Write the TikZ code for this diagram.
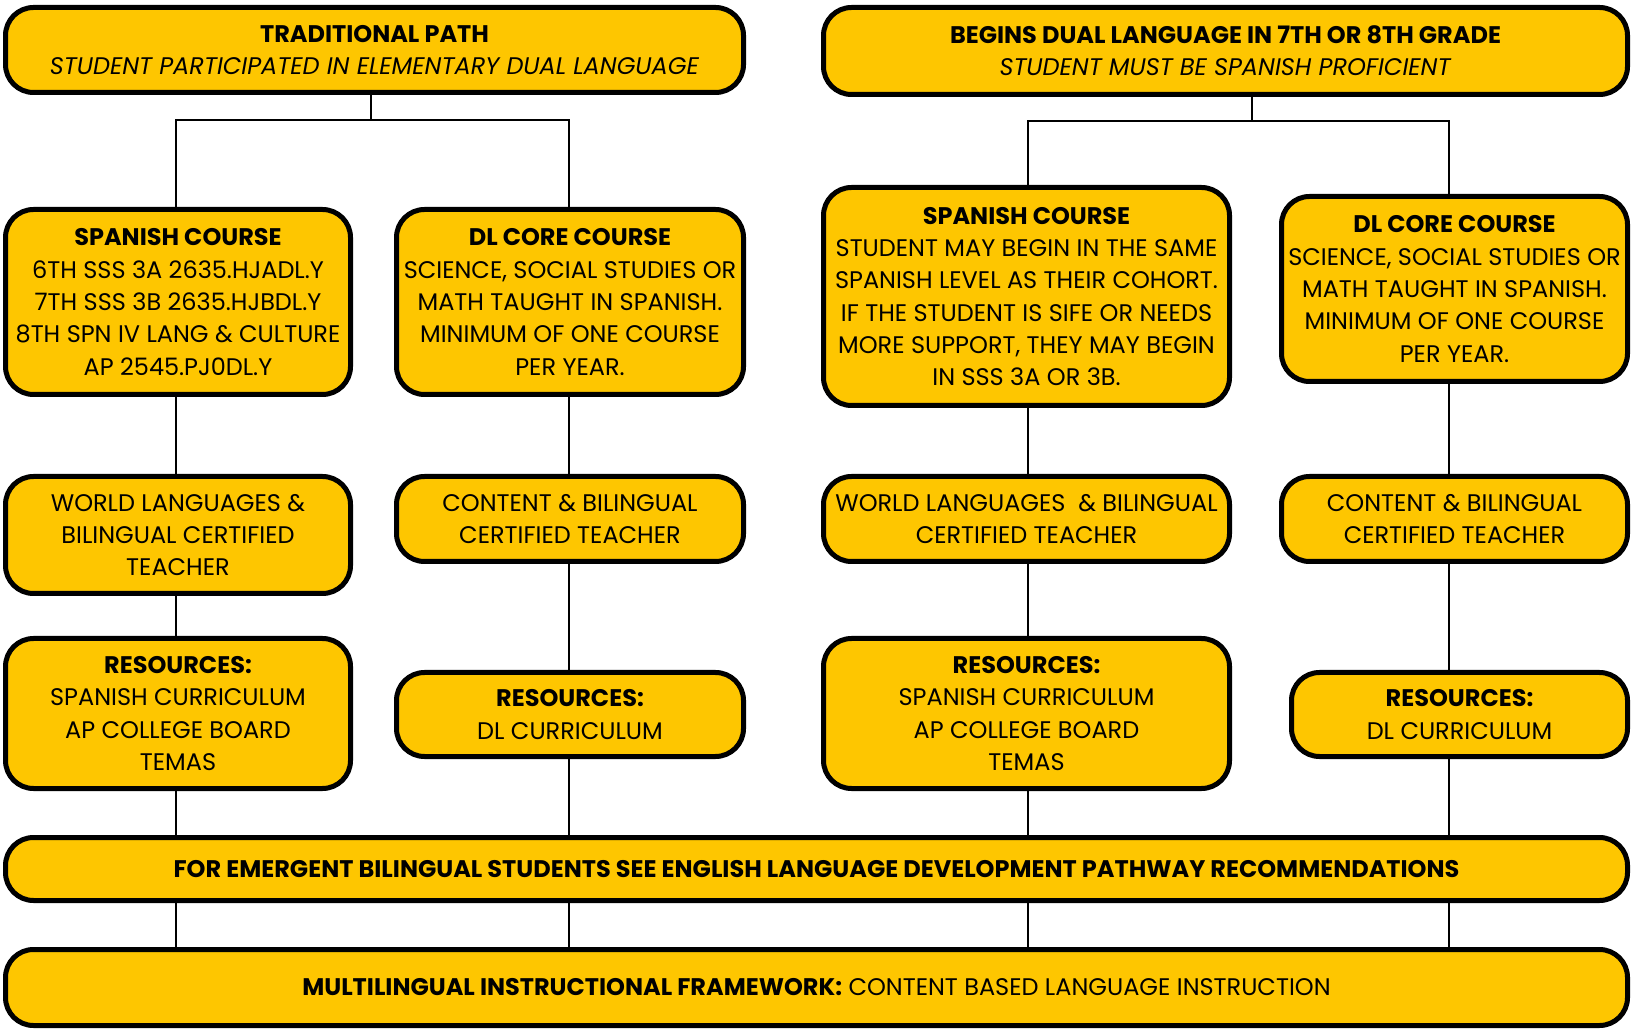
\documentclass[tikz,border=0pt]{standalone}
\usepackage{fontspec}
\setmainfont{Poppins}
\usetikzlibrary{backgrounds}
\definecolor{boxyellow}{RGB}{254,198,0}
\begin{document}
\begin{tikzpicture}[x=0.5pt,y=-0.5pt,
  box/.style={draw=black, line width=2.5pt, fill=boxyellow, rounded corners=14pt,
    align=center, inner sep=0pt, font=\fontsize{12}{16.15}\selectfont},
  link/.style={draw=black, line width=0.7pt}]
\useasboundingbox (0,0) rectangle (1632,1036);

% top row
\node[box, minimum width=369pt, minimum height=42.5pt] (T1) at (374.5,50)
  {\textbf{TRADITIONAL PATH}\\\textit{STUDENT PARTICIPATED IN ELEMENTARY DUAL LANGUAGE}};
\node[box, minimum width=402pt, minimum height=43.5pt] (T2) at (1225.5,51)
  {\textbf{BEGINS DUAL LANGUAGE IN 7TH OR 8TH GRADE}\\\textit{STUDENT MUST BE SPANISH PROFICIENT}};

% course row
\node[box, minimum width=172.5pt, minimum height=92.5pt] (A1) at (178,302)
  {\textbf{SPANISH COURSE}\\6TH SSS 3A 2635.HJADL.Y\\7TH SSS 3B 2635.HJBDL.Y\\8TH SPN IV LANG \& CULTURE\\AP 2545.PJ0DL.Y};
\node[box, minimum width=173.5pt, minimum height=92.5pt] (A2) at (570,302)
  {\textbf{DL CORE COURSE}\\SCIENCE, SOCIAL STUDIES OR\\MATH TAUGHT IN SPANISH.\\MINIMUM OF ONE COURSE\\PER YEAR.};
\node[box, minimum width=203pt, minimum height=109pt] (B1) at (1026.5,296.5)
  {\textbf{SPANISH COURSE}\\STUDENT MAY BEGIN IN THE SAME\\SPANISH LEVEL AS THEIR COHORT.\\IF THE STUDENT IS SIFE OR NEEDS\\MORE SUPPORT, THEY MAY BEGIN\\IN SSS 3A OR 3B.};
\node[box, minimum width=173pt, minimum height=92.5pt] (B2) at (1454.5,289)
  {\textbf{DL CORE COURSE}\\SCIENCE, SOCIAL STUDIES OR\\MATH TAUGHT IN SPANISH.\\MINIMUM OF ONE COURSE\\PER YEAR.};

% teacher row
\node[box, minimum width=172.5pt, minimum height=58.5pt] (TA1) at (178,535)
  {WORLD LANGUAGES \&\\BILINGUAL CERTIFIED\\TEACHER};
\node[box, minimum width=173.5pt, minimum height=42.5pt] (TA2) at (570,519)
  {CONTENT \& BILINGUAL\\CERTIFIED TEACHER};
\node[box, minimum width=203pt, minimum height=42.5pt] (TB1) at (1026.5,519)
  {WORLD LANGUAGES \ \& BILINGUAL\\CERTIFIED TEACHER};
\node[box, minimum width=173pt, minimum height=42.5pt] (TB2) at (1454.5,519)
  {CONTENT \& BILINGUAL\\CERTIFIED TEACHER};

% resources row
\node[box, minimum width=172.5pt, minimum height=75pt] (RA1) at (178,713.5)
  {\textbf{RESOURCES:}\\SPANISH CURRICULUM\\AP COLLEGE BOARD\\TEMAS};
\node[box, minimum width=173.5pt, minimum height=42pt] (RA2) at (570,714.5)
  {\textbf{RESOURCES:}\\DL CURRICULUM};
\node[box, minimum width=203pt, minimum height=75pt] (RB1) at (1026.5,713.5)
  {\textbf{RESOURCES:}\\SPANISH CURRICULUM\\AP COLLEGE BOARD\\TEMAS};
\node[box, minimum width=168pt, minimum height=42pt] (RB2) at (1459.5,714.5)
  {\textbf{RESOURCES:}\\DL CURRICULUM};

% bars
\node[box, minimum width=811pt, minimum height=31.5pt] (E) at (816.5,869)
  {\textbf{FOR EMERGENT BILINGUAL STUDENTS SEE ENGLISH LANGUAGE DEVELOPMENT PATHWAY RECOMMENDATIONS}};
\node[box, minimum width=811pt, minimum height=38pt] (M) at (816.5,987.5)
  {\textbf{MULTILINGUAL INSTRUCTIONAL FRAMEWORK:} CONTENT BASED LANGUAGE INSTRUCTION};

% connectors
\coordinate (c1) at (176,0);
\coordinate (c2) at (569,0);
\coordinate (c3) at (1028,0);
\coordinate (c4) at (1449,0);
\coordinate (j1) at (371,120);
\coordinate (j2) at (1252,121);

\begin{scope}[on background layer]
\draw[link] (T1.south -| j1) -- (j1);
\draw[link] (A1.north -| c1) |- (j1) -| (A2.north -| c2);
\draw[link] (T2.south -| j2) -- (j2);
\draw[link] (B1.north -| c3) |- (j2) -| (B2.north -| c4);

\draw[link] (A1.south -| c1) -- (TA1.north -| c1);
\draw[link] (TA1.south -| c1) -- (RA1.north -| c1);
\draw[link] (RA1.south -| c1) -- (E.north -| c1);
\draw[link] (E.south -| c1) -- (M.north -| c1);

\draw[link] (A2.south -| c2) -- (TA2.north -| c2);
\draw[link] (TA2.south -| c2) -- (RA2.north -| c2);
\draw[link] (RA2.south -| c2) -- (E.north -| c2);
\draw[link] (E.south -| c2) -- (M.north -| c2);

\draw[link] (B1.south -| c3) -- (TB1.north -| c3);
\draw[link] (TB1.south -| c3) -- (RB1.north -| c3);
\draw[link] (RB1.south -| c3) -- (E.north -| c3);
\draw[link] (E.south -| c3) -- (M.north -| c3);

\draw[link] (B2.south -| c4) -- (TB2.north -| c4);
\draw[link] (TB2.south -| c4) -- (RB2.north -| c4);
\draw[link] (RB2.south -| c4) -- (E.north -| c4);
\draw[link] (E.south -| c4) -- (M.north -| c4);
\end{scope}
\end{tikzpicture}
\end{document}
